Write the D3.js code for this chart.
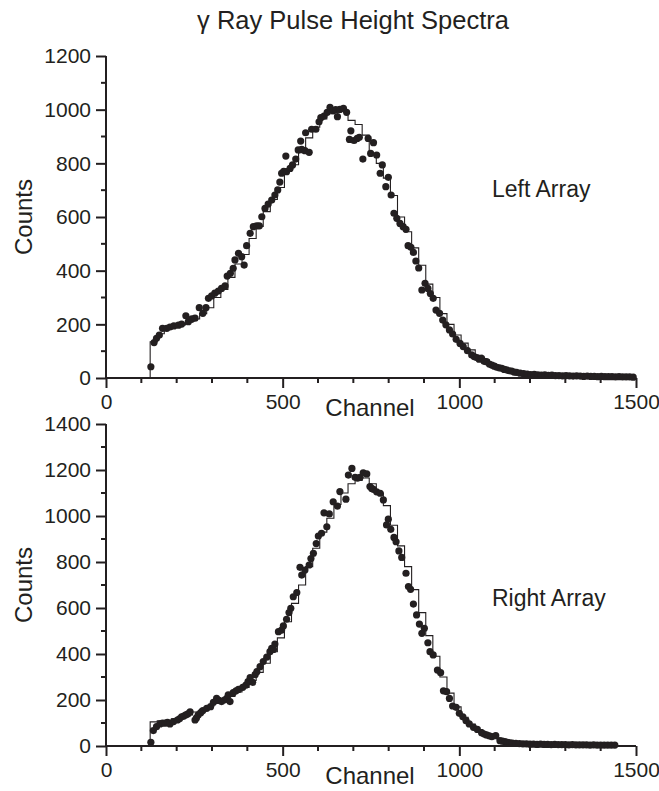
<!DOCTYPE html>
<html><head><meta charset="utf-8">
<script src="https://cdn.jsdelivr.net/npm/d3@7"></script>
<style>body{margin:0;background:#fff}svg{display:block;font-family:"Liberation Sans",Arial,sans-serif}</style>
</head><body>
<script>
const title = "γ Ray Pulse Height Spectra";
const xTicks = [0, 500, 1000, 1500];
const topYTicks = [0, 200, 400, 600, 800, 1000, 1200];
const botYTicks = [0, 200, 400, 600, 800, 1000, 1200, 1400];

const histChannels = [125,145,165,185,205,225,245,265,285,305,325,345,365,385,405,425,445,465,485,505,525,545,565,585,605,625,645,665,685,705,725,745,765,785,805,825,845,865,885,905,925,945,965,985,1005,1025,1045,1065,1085,1105,1125,1145,1165,1185,1205,1225,1245,1265,1285,1305,1325,1345,1365,1385,1405,1425,1445,1465,1485];
const leftHist = [135,165,183,192,198,208,220,240,262,300,330,375,425,460,520,565,620,665,710,770,795,840,895,935,965,985,1000,995,960,945,905,830,800,745,680,600,545,485,420,350,300,240,200,160,130,105,85,68,52,42,33,26,20,16,13,11,10,9,8,7,7,6,6,5,5,5,4,4,4];
const leftHistEnd = 1500;
const rightHist = [105,110,112,118,125,135,148,160,172,185,200,215,235,255,285,320,360,410,470,540,620,700,780,860,930,990,1050,1100,1140,1155,1165,1140,1100,1045,960,870,780,680,580,480,390,300,230,170,125,95,72,55,42,32,24,18,14,11,9,8,7,6,6,5,5,5,4,4,4,4];
const rightHistEnd = 1445;

const leftDots = [[127,42],[136,132],[143,148],[151,160],[160,185],[172,185],[181,190],[192,194],[205,197],[214,201],[226,232],[233,210],[243,220],[252,223],[264,262],[274,241],[283,262],[290,297],[299,306],[308,316],[318,324],[327,334],[337,343],[343,380],[352,390],[360,409],[365,440],[375,465],[384,452],[391,421],[398,493],[408,539],[417,564],[427,567],[434,567],[441,601],[450,632],[459,648],[469,663],[478,682],[486,701],[492,730],[497,763],[503,770],[509,827],[511,769],[521,781],[528,794],[537,816],[544,850],[551,883],[554,852],[563,847],[565,914],[575,841],[582,927],[594,927],[603,955],[608,970],[617,976],[626,990],[634,1009],[643,996],[650,1000],[655,974],[662,1001],[672,1005],[681,990],[689,889],[693,921],[702,885],[711,893],[717,897],[727,816],[742,893],[749,837],[757,877],[766,831],[776,763],[782,794],[792,713],[799,748],[807,682],[815,614],[823,595],[832,576],[841,564],[849,554],[855,493],[863,487],[870,468],[877,436],[885,410],[894,328],[903,353],[911,334],[918,315],[926,297],[934,253],[944,241],[953,216],[962,198],[972,179],[981,164],[991,144],[1002,129],[1011,117],[1023,102],[1035,86],[1042,80],[1049,76],[1056,70],[1063,73],[1070,62],[1077,61],[1085,52],[1092,48],[1099,44],[1106,40],[1113,38],[1120,36],[1127,32],[1134,30],[1141,27],[1148,26],[1155,22],[1162,21],[1172,18],[1182,16],[1192,15],[1202,13],[1212,14],[1222,12],[1232,11],[1242,12],[1252,10],[1262,11],[1272,9],[1282,9],[1292,8],[1302,9],[1312,8],[1322,7],[1332,8],[1342,7],[1352,6],[1362,7],[1372,6],[1382,6],[1392,5],[1402,6],[1412,5],[1422,5],[1432,5],[1442,4],[1452,5],[1462,4],[1472,4],[1482,4],[1492,3]];

const rightDots = [[127,16],[134,67],[143,84],[153,96],[160,100],[167,99],[174,103],[181,96],[191,106],[202,113],[208,118],[214,127],[220,130],[226,135],[232,140],[238,149],[252,113],[256,122],[261,135],[268,145],[274,154],[285,164],[296,171],[304,190],[313,207],[320,198],[327,193],[335,200],[342,207],[346,222],[351,193],[360,232],[368,240],[375,246],[387,255],[396,265],[402,280],[408,297],[415,277],[422,310],[427,323],[436,345],[445,367],[455,386],[464,410],[469,425],[474,420],[478,443],[488,497],[497,504],[502,522],[511,551],[518,580],[523,599],[530,649],[540,667],[549,777],[554,743],[563,765],[575,787],[580,815],[587,838],[595,880],[601,913],[610,925],[617,1014],[625,953],[632,1009],[643,1062],[655,1043],[662,1106],[679,1073],[686,1178],[696,1207],[705,1168],[712,1165],[719,1168],[728,1188],[738,1183],[747,1128],[752,1120],[757,1116],[766,1105],[776,1099],[785,1070],[794,961],[799,986],[806,942],[815,907],[821,888],[829,848],[837,820],[849,751],[856,693],[862,681],[870,617],[879,570],[887,530],[894,490],[901,512],[911,449],[917,410],[926,396],[938,330],[947,319],[955,240],[964,236],[972,207],[981,174],[991,168],[1000,142],[1010,127],[1019,110],[1028,96],[1040,81],[1051,72],[1063,58],[1070,52],[1077,48],[1085,44],[1092,41],[1103,45],[1115,23],[1122,21],[1129,19],[1136,16],[1143,14],[1150,13],[1160,11],[1170,10],[1180,9],[1190,9],[1200,8],[1210,8],[1220,7],[1230,8],[1240,7],[1250,7],[1260,6],[1270,7],[1280,6],[1290,6],[1300,6],[1310,5],[1320,6],[1330,5],[1340,5],[1350,5],[1360,5],[1370,4],[1380,5],[1390,4],[1400,4],[1410,4],[1420,4],[1430,4],[1440,4]];

const W = 659, H = 791;
const svg = d3.select("body").append("svg").attr("width", W).attr("height", H);

svg.append("text").attr("x", 353).attr("y", 29).attr("text-anchor", "middle")
  .attr("font-size", 25.5).attr("fill", "#231f20").text(title);

function panel(cfg) {
  const x = d3.scaleLinear().domain([0, 1500]).range([106, 636]);
  const y = d3.scaleLinear().domain([0, cfg.yMax]).range([cfg.bottom, cfg.top]);
  const g = svg.append("g");

  const pts = [[cfg.channels[0], 0]].concat(cfg.hist.map((v, i) => [cfg.channels[i], v])).concat([[cfg.histEnd, cfg.hist[cfg.hist.length - 1]]]);
  g.append("path").datum(pts)
    .attr("d", d3.line().x(d => x(d[0])).y(d => y(d[1])).curve(d3.curveStepAfter))
    .attr("fill", "none").attr("stroke", "#231f20").attr("stroke-width", 1.1);

  g.selectAll("circle").data(cfg.dots).join("circle")
    .attr("cx", d => x(d[0])).attr("cy", d => y(d[1])).attr("r", 3.6)
    .attr("fill", "#231f20");

  const xAxis = d3.axisBottom(x).tickValues(xTicks).tickSize(10).tickPadding(6).tickFormat(d3.format("d"));
  const xa = g.append("g").attr("transform", `translate(0,${cfg.bottom})`).call(xAxis);
  const xMinor = d3.range(100, 1500, 100).filter(v => v % 500 !== 0);
  xa.selectAll(".minor").data(xMinor).join("line").attr("class", "minor")
    .attr("x1", d => x(d)).attr("x2", d => x(d)).attr("y1", 0).attr("y2", 5);

  const yAxis = d3.axisLeft(y).tickValues(cfg.yTicks).tickSize(10).tickPadding(5).tickFormat(d3.format("d"));
  const ya = g.append("g").attr("transform", "translate(106,0)").call(yAxis);
  const yMinor = d3.range(100, cfg.yMax, 200);
  ya.selectAll(".minor").data(yMinor).join("line").attr("class", "minor")
    .attr("x1", 0).attr("x2", -5).attr("y1", d => y(d)).attr("y2", d => y(d));

  [xa, ya].forEach(a => {
    a.select(".domain").attr("stroke", "#231f20").attr("stroke-width", 2).attr("d",
      a === xa ? `M106,0H636` : `M0,${cfg.bottom}V${cfg.top}`);
    a.selectAll("line").attr("stroke", "#231f20").attr("stroke-width", 2);
    a.selectAll("text").attr("font-size", 21).attr("fill", "#231f20")
      .attr("font-family", '"Liberation Sans",Arial,sans-serif');
  });

  g.append("text").attr("x", 370).attr("y", cfg.bottom + 38).attr("text-anchor", "middle")
    .attr("font-size", 24).attr("fill", "#231f20").text("Channel");
  g.append("text").attr("transform", `translate(32,${(cfg.top + cfg.bottom) / 2}) rotate(-90)`)
    .attr("text-anchor", "middle").attr("font-size", 24).attr("fill", "#231f20").text("Counts");
  g.append("text").attr("x", 492).attr("y", cfg.labelY).attr("font-size", 23)
    .attr("fill", "#231f20").text(cfg.label);
}

panel({top: 56, bottom: 378, yMax: 1200, yTicks: topYTicks, channels: histChannels, hist: leftHist, histEnd: leftHistEnd, dots: leftDots, label: "Left Array", labelY: 197});
panel({top: 424, bottom: 746, yMax: 1400, yTicks: botYTicks, channels: histChannels, hist: rightHist, histEnd: rightHistEnd, dots: rightDots, label: "Right Array", labelY: 606});
</script>
</body></html>
